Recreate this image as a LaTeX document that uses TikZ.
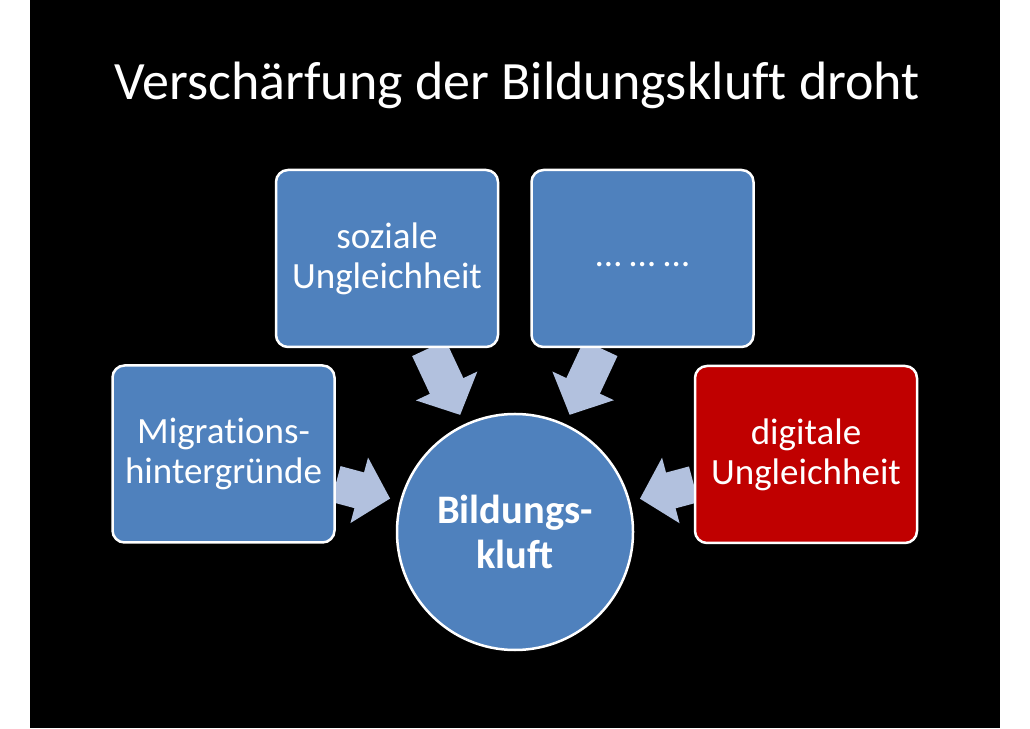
\documentclass[tikz,border=0pt]{standalone}
\usepackage{fontspec}
\setmainfont[Ligatures=NoCommon]{Carlito}
\usetikzlibrary{arrows.meta}
\definecolor{slideblue}{RGB}{79,129,189}
\definecolor{slidered}{RGB}{192,0,0}
\definecolor{arrowblue}{RGB}{178,193,222}
\pgfdeclarelayer{bg}
\pgfsetlayers{bg,main}

\begin{document}
\begin{tikzpicture}[x=1pt, y=1pt,
  box/.style={draw=white, line width=2.5pt, rounded corners=12pt, fill=slideblue,
              minimum width=222pt, minimum height=177pt, text=white, align=center,
              font=\fontsize{37}{40}\selectfont, inner sep=0pt},
  hub/.style={circle, draw=white, line width=2.5pt, fill=slideblue, minimum size=236pt,
              text=white, align=center, font=\fontsize{40.5}{45}\selectfont\bfseries},
  feed/.style={arrowblue, line width=37pt, shorten >=10pt,
               -{Triangle[width=66pt, length=32pt]}}]
  \useasboundingbox (0,0) rectangle (1030,728);
  % title
  \node[anchor=base west, text=white, font=\fontsize{54}{60}\selectfont] (title) at (111,628)
    {Verschärfung der Bildungskluft droht};
  % causes
  \node[box] (sozial) at (387,469.5) {soziale\\Ungleichheit};
  \node[box] (dots) at (642.5,469.5) {\strut… … …};
  \node[box] (migration) at (223.5,274) {Migrations-\\hintergründe};
  \node[box, fill=slidered] (digital) at (806,273.5) {digitale\\Ungleichheit};
  % centre
  \node[hub] (kluft) at (515,196) {Bildungs-\\kluft};
  \begin{pgfonlayer}{bg}
    \fill[black] (30,0) rectangle (1000,728);
    \draw[feed] (sozial) -- (kluft);
    \draw[feed] (dots) -- (kluft);
    \draw[feed] (migration) -- (kluft);
    \draw[feed] (digital) -- (kluft);
  \end{pgfonlayer}
\end{tikzpicture}
\end{document}
